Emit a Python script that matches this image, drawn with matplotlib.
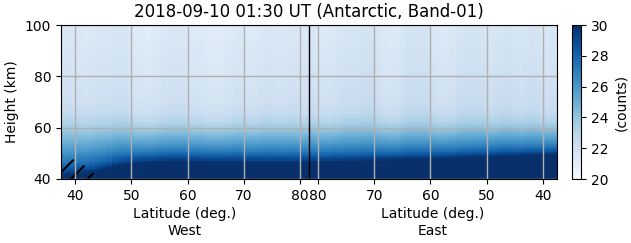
import numpy as np
import matplotlib
matplotlib.use("Agg")
import matplotlib.pyplot as plt
from matplotlib.patches import Polygon

# ---------------- data ----------------
title = "2018-09-10 01:30 UT (Antarctic, Band-01)"
lat_turn = 81.6          # latitude at the junction of West / East
lat_min = 37.5

# West side, columns from 37.5 to 81.6 deg (1-deg wide, last one partial)
west_edges = [37.5 + i for i in range(44)] + [81.6]
# height (km) where the saturated layer ends, per column
west_base = [41.5, 41.8, 42.0, 42.3, 42.6, 42.9, 43.3, 43.8, 44.4, 45.0,
             45.5, 45.8, 46.1, 46.3, 46.5, 46.6, 46.7, 46.8, 46.9, 47.0,
             47.0, 47.0, 46.9, 46.9, 46.8, 46.8, 46.7, 46.7, 46.7, 46.7,
             46.7, 46.7, 46.6, 46.6, 46.6, 46.6, 46.6, 46.6, 46.6, 46.6,
             46.6, 46.6, 46.6, 46.6]
# height (km) where the gradient ends, per column
west_top = [61.0, 61.1, 61.2, 61.3, 61.4, 61.6, 61.8, 62.0, 62.2, 62.4,
            62.5, 62.5, 62.5, 62.5, 62.5, 62.5, 62.5, 62.5, 62.5, 62.5,
            62.5, 62.5, 62.5, 62.5, 62.5, 62.5, 62.5, 62.5, 62.5, 62.5,
            62.5, 62.5, 62.5, 62.5, 62.5, 62.5, 62.5, 62.5, 62.5, 62.5,
            62.5, 62.5, 62.5, 62.5]
# column-wise brightness offset of the upper region (counts)
west_off = [0.1, 0.1, 0.0, 0.0, -0.1, 0.0, 0.1, 0.1, 0.1, 0.2,
            0.2, 0.2, 0.0, -0.2, -0.2, -0.3, -0.2, -0.1, 0.0, 0.1,
            0.1, 0.1, 0.0, -0.1, -0.1, -0.2, -0.3, -0.3, -0.3, -0.2,
            -0.1, 0.0, 0.0, -0.1, -0.1, 0.0, 0.1, 0.1, 0.0, 0.0,
            0.1, 0.1, 0.0, 0.0]

# East side, columns from 81.6 down to 37.5 deg
east_edges = [81.6] + [80.5 - i for i in range(44)]
east_base = [46.7, 46.7, 46.8, 46.8, 46.9, 46.9, 47.0, 47.0, 47.1, 47.1,
             47.2, 47.3, 47.3, 47.4, 47.4, 47.5, 47.5, 47.6, 47.6, 47.7,
             47.7, 47.8, 47.8, 47.9, 48.0, 48.0, 48.1, 48.2, 48.3, 48.4,
             48.4, 48.5, 48.6, 48.7, 48.8, 48.9, 48.9, 49.0, 49.1, 49.1,
             49.2, 49.2, 49.3, 49.3]
east_top = [63.0] * 44
east_off = [0.0, -0.2, -0.2, -0.2, -0.1, 0.0, 0.1, 0.1, 0.1, 0.2,
            0.2, 0.2, -0.1, -0.2, -0.3, -0.2, 0.0, 0.2, 0.2, 0.2,
            0.2, 0.1, -0.1, -0.2, -0.2, -0.1, 0.1, 0.2, 0.2, 0.2,
            0.2, 0.1, 0.0, 0.1, 0.2, 0.2, 0.1, 0.0, 0.1, 0.2,
            0.1, 0.0, -0.1, 0.0]
east_shift = 0.15

# shape of the gradient between base and top (fraction of excess counts)
grad_t = [0.0, 0.1, 0.25, 0.4, 0.55, 0.7, 0.85, 1.0]
grad_frac = [1.0, 0.8, 0.6, 0.45, 0.32, 0.2, 0.1, 0.0]
# upper-region counts vs height
upper_h = [58.0, 60.0, 63.0, 66.0, 70.0, 80.0, 90.0, 100.0]
upper_v = [23.8, 23.5, 22.9, 22.4, 22.1, 21.8, 21.6, 21.4]
sat_value = 31.0

height_edges = np.arange(40.0, 100.01, 0.8)

west_ticks = [40, 50, 60, 70, 80]
east_ticks = [80, 70, 60, 50, 40]

# hatched (flagged) area, in (distance, height)
hatch_u = [0.0, 0.0, 3.5, 7.0]
hatch_h = [40.0, 49.5, 46.5, 40.0]

# ---------------- build field ----------------
def column_profile(z, base, top, off):
    ztop_val = np.interp(top, upper_h, upper_v) + off
    out = np.empty_like(z)
    for k, zz in enumerate(z):
        if zz <= base:
            out[k] = sat_value
        elif zz <= top:
            t = (zz - base) / (top - base)
            out[k] = ztop_val + (30.0 - ztop_val) * np.interp(t, grad_t, grad_frac)
        else:
            out[k] = np.interp(zz, upper_h, upper_v) + off
    return out

zc = 0.5 * (height_edges[:-1] + height_edges[1:])
span_w = lat_turn - lat_min

def u_west(lat):
    return np.asarray(lat) - lat_min

def u_east(lat):
    return span_w + (lat_turn - np.asarray(lat))

cols = []
for b, t, o in zip(west_base, west_top, west_off):
    cols.append(column_profile(zc, b, t, o))
for b, t, o in zip(east_base, east_top, east_off):
    cols.append(column_profile(zc, b, t, o + east_shift))
C = np.array(cols).T

u_edges = np.concatenate([u_west(west_edges), u_east(east_edges)[1:]])

# ---------------- plot ----------------
plt.rcParams['hatch.linewidth'] = 1.5
fig = plt.figure(figsize=(6.31, 2.43), dpi=100)
ax = fig.add_axes([61 / 631, 64 / 243, 496 / 631, 154 / 243])
cax = fig.add_axes([572 / 631, 64 / 243, 9 / 631, 154 / 243])

mesh = ax.pcolormesh(u_edges, height_edges, C, cmap='Blues', vmin=20, vmax=30,
                     shading='flat')
ax.add_patch(Polygon(list(zip(hatch_u, hatch_h)), closed=True, fill=False,
                     hatch='//', edgecolor='black', linewidth=0))

ax.set_xlim(0, 2 * span_w)
ax.set_ylim(40, 100)
ax.set_yticks([40, 60, 80, 100])
xt = list(u_west(west_ticks)) + list(u_east(east_ticks))
ax.set_xticks(xt)
ax.set_xticklabels([str(v) for v in west_ticks] + [str(v) for v in east_ticks])
ax.grid(True, color='#b0b0b0', linewidth=1.0)
ax.set_axisbelow(False)
for sp in ax.spines.values():
    sp.set_zorder(5)
ax.axvline(span_w, color='black', linewidth=1.0, zorder=4)
ax.tick_params(labelsize=10)
ax.set_ylabel('Height (km)', fontsize=10)
ax.set_title(title, fontsize=12)

ax.text(0.25, -0.185, 'Latitude (deg.)\nWest', transform=ax.transAxes,
        ha='center', va='top', fontsize=10, linespacing=1.2)
ax.text(0.75, -0.185, 'Latitude (deg.)\nEast', transform=ax.transAxes,
        ha='center', va='top', fontsize=10, linespacing=1.2)

cb = fig.colorbar(mesh, cax=cax)
cb.set_ticks([20, 22, 24, 26, 28, 30])
cb.ax.tick_params(labelsize=10)
cb.set_label('(counts)', fontsize=10)

fig.savefig('out.png', dpi=100)
